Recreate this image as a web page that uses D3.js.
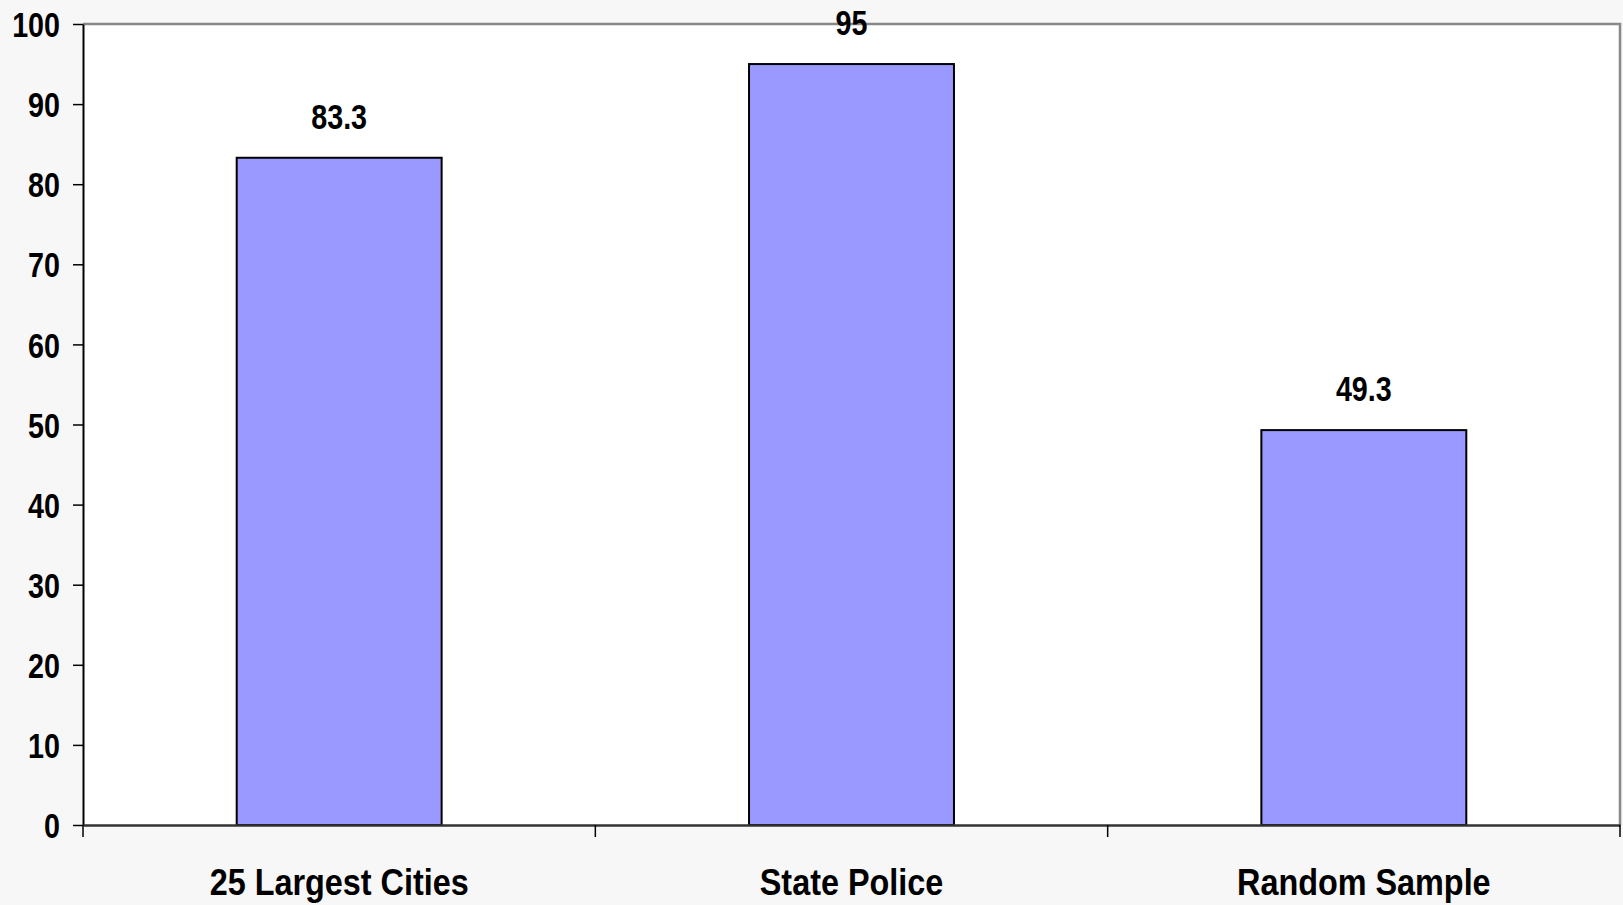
<!DOCTYPE html>
<html><head><meta charset="utf-8">
<script src="https://cdn.jsdelivr.net/npm/d3@7"></script>
<style>
html,body{margin:0;padding:0;background:#f7f7f7;}
svg{display:block;}
text{font-family:"Liberation Sans Narrow","Arial Narrow","Liberation Sans",Arial,sans-serif;font-weight:bold;fill:#000;}
</style></head><body>
<svg id="chart" width="1623" height="905"></svg>
<script>
const categories = ["25 Largest Cities", "State Police", "Random Sample"];
const values = [83.3, 95, 49.3];
const valueLabels = ["83.3", "95", "49.3"];
const yTicks = [0,10,20,30,40,50,60,70,80,90,100];

const W = 1623, H = 905;
const m = {left: 83, right: 3, top: 24, bottom: 80};
const svg = d3.select("#chart");
const pw = W - m.left - m.right, ph = H - m.top - m.bottom;
const SX = 0.82;

function condense(sel, sx) {
  sel.each(function() {
    const t = d3.select(this);
    const xv = +t.attr("x") || 0;
    t.attr("x", xv / sx).attr("transform", `scale(${sx},1)`);
  });
}

const x = d3.scaleBand().domain(categories).range([m.left, m.left + pw]).paddingInner(0.6).paddingOuter(0.3);
const xb = d3.scaleBand().domain(categories).range([m.left, m.left + pw]);
const y = d3.scaleLinear().domain([0,100]).range([m.top + ph, m.top]);

svg.append("rect").attr("x", m.left).attr("y", m.top).attr("width", pw).attr("height", ph).attr("fill", "#fff");
svg.append("path").attr("d", `M${m.left},${m.top}H${m.left+pw}V${m.top+ph}`).attr("fill","none").attr("stroke","#888").attr("stroke-width",2.5);

svg.selectAll("rect.bar").data(values).enter().append("rect").attr("class","bar")
  .attr("x", (d,i) => x(categories[i]))
  .attr("y", d => y(d))
  .attr("width", x.bandwidth())
  .attr("height", d => y(0) - y(d))
  .attr("fill", "#9999ff").attr("stroke", "#000").attr("stroke-width", 2);

const vl = svg.selectAll("text.val").data(values).enter().append("text").attr("class","val")
  .attr("x", (d,i) => x(categories[i]) + x.bandwidth()/2)
  .attr("y", d => y(d) - 29)
  .attr("text-anchor","middle").attr("font-size", 35)
  .text((d,i) => valueLabels[i]);
condense(vl, SX);

const yAxis = d3.axisLeft(y).tickValues(yTicks).tickSize(10).tickPadding(13).tickSizeOuter(0);
const gy = svg.append("g").attr("transform", `translate(${m.left},0)`).call(yAxis);
gy.select(".domain").attr("stroke","#000").attr("stroke-width",2);
gy.selectAll(".tick line").attr("stroke","#000").attr("stroke-width",1.5);
gy.selectAll(".tick text").attr("font-size", 35).attr("fill","#000").attr("dy","0.36em")
  .style("font-family",'"Liberation Sans",Arial,sans-serif').style("font-weight","bold");
condense(gy.selectAll(".tick text"), SX);

const xAxis = d3.axisBottom(xb).tickSize(0).tickPadding(70).tickSizeOuter(0);
const gx = svg.append("g").attr("transform", `translate(0,${m.top+ph})`).call(xAxis);
gx.select(".domain").attr("stroke","#333").attr("stroke-width",2.5);
gx.selectAll(".tick text").attr("font-size", 37).attr("fill","#000").attr("dy","0")
  .style("font-family",'"Liberation Sans",Arial,sans-serif').style("font-weight","bold");
condense(gx.selectAll(".tick text"), 0.875);
const sepPos = categories.map(c => xb(c)).concat([m.left + pw]);
gx.selectAll("line.sep").data(sepPos).enter().append("line").attr("class","sep")
  .attr("x1", d => d).attr("x2", d => d).attr("y1", 0).attr("y2", 12)
  .attr("stroke","#000").attr("stroke-width",1.5);
</script>
</body></html>
